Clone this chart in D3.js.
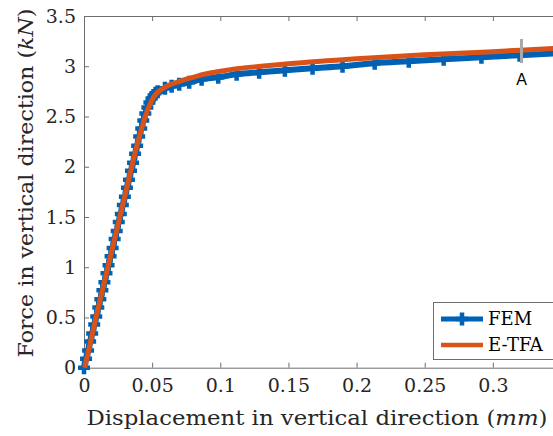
<!DOCTYPE html>
<html>
<head>
<meta charset="utf-8">
<script src="https://cdn.jsdelivr.net/npm/d3@7"></script>
<style>
body { margin: 0; background: #fff; }
svg { display: block; }
</style>
</head>
<body>
<svg id="graph"></svg>
<script>
// FEM (blue, + markers)
var femX = [0, 0.0015, 0.003, 0.0045, 0.006, 0.0075, 0.009, 0.0105, 0.012, 0.0135, 0.015, 0.0165, 0.018, 0.0195, 0.021, 0.0225,
    0.024, 0.0255, 0.027, 0.0285, 0.030, 0.0315, 0.033, 0.0345, 0.036, 0.0375, 0.039, 0.0405, 0.042, 0.0435, 0.045, 0.0465,
    0.048, 0.0495, 0.051, 0.0525, 0.054,
    0.0594, 0.0643, 0.0699, 0.0772, 0.0863, 0.0985, 0.112, 0.1285, 0.1474, 0.1677, 0.1897, 0.2133, 0.2383, 0.2639, 0.2916, 0.3196, 0.348]
var femY = [0, 0.09, 0.17, 0.26, 0.34, 0.43, 0.51, 0.60, 0.68, 0.77, 0.85, 0.94, 1.02, 1.11, 1.19, 1.28,
    1.36, 1.45, 1.53, 1.62, 1.70, 1.79, 1.87, 1.96, 2.04, 2.13, 2.21, 2.30, 2.38, 2.46, 2.53, 2.59,
    2.64, 2.68, 2.71, 2.73, 2.745,
    2.78, 2.80, 2.82, 2.84, 2.87, 2.89, 2.92, 2.94, 2.96, 2.98, 3.00, 3.03, 3.05, 3.07, 3.09, 3.11, 3.13]

// E-TFA (orange)
var tfaX = [0.0005, 0.01, 0.02, 0.03, 0.04, 0.045, 0.048, 0.051, 0.054, 0.058, 0.063, 0.07, 0.08, 0.09, 0.1, 0.112, 0.13, 0.15, 0.2, 0.25, 0.3, 0.32, 0.35]
var tfaY = [0, 0.57, 1.14, 1.71, 2.27, 2.50, 2.61, 2.69, 2.74, 2.78, 2.815, 2.85, 2.89, 2.925, 2.95, 2.975, 3.0, 3.025, 3.075, 3.115, 3.145, 3.16, 3.18]

var xTicks = [0, 0.05, 0.1, 0.15, 0.2, 0.25, 0.3]
var xTickLabels = ["0", "0.05", "0.1", "0.15", "0.2", "0.25", "0.3"]
var yTicks = [0, 0.5, 1, 1.5, 2, 2.5, 3, 3.5]
var yTickLabels = ["0", "0.5", "1", "1.5", "2", "2.5", "3", "3.5"]

var seriesNames = ["FEM", "E-TFA"]
var seriesColors = ["#0062b4", "#d95319"]

var markA = 0.321   // the grey "A" mark

var screen = {width: 553, height: 436}
var plot = {left: 84, top: 16, right: 561, bottom: 367.7}
var serif = "DejaVu Serif, Liberation Serif, serif"

var svg = d3.select("#graph")
    .attr("width", screen.width)
    .attr("height", screen.height)

var xScale = d3.scaleLinear()
    .domain([0, 0.35])
    .range([plot.left, plot.right])

var yScale = d3.scaleLinear()
    .domain([0, 3.5])
    .range([plot.bottom, plot.top])

// axes
svg.append("g")
    .attr("transform", "translate(0," + plot.bottom + ")")
    .call(d3.axisBottom(xScale).tickValues(xTicks)
        .tickFormat(function(d, i) { return xTickLabels[i] })
        .tickSizeInner(-5).tickSizeOuter(0).tickPadding(11))

svg.append("g")
    .attr("transform", "translate(0," + plot.top + ")")
    .call(d3.axisTop(xScale).tickValues(xTicks)
        .tickFormat("").tickSizeInner(-5).tickSizeOuter(0))

svg.append("g")
    .attr("transform", "translate(" + plot.left + ",0)")
    .call(d3.axisLeft(yScale).tickValues(yTicks)
        .tickFormat(function(d, i) { return yTickLabels[i] })
        .tickSizeInner(-5).tickSizeOuter(0).tickPadding(8))

svg.selectAll(".domain, .tick line").attr("stroke", "#6e6e6e").attr("stroke-width", 1)
svg.selectAll(".tick text")
    .style("font-family", serif)
    .style("font-size", "19px")
    .attr("fill", "#262626")

// curves
var femPts = femX.map(function(x, i) { return [x, femY[i]] })
var tfaPts = tfaX.map(function(x, i) { return [x, tfaY[i]] })

var line = d3.line()
    .curve(d3.curveMonotoneX)
    .x(function(d) { return xScale(d[0]) })
    .y(function(d) { return yScale(d[1]) })

svg.append("path")
    .datum(femPts)
    .attr("d", line)
    .attr("fill", "none")
    .attr("stroke", seriesColors[0])
    .attr("stroke-width", 6)
    .attr("stroke-linejoin", "round")

svg.selectAll(".fem-mark")
    .data(femPts)
    .enter()
    .append("path")
    .attr("class", "fem-mark")
    .attr("transform", function(d) { return "translate(" + xScale(d[0]) + "," + yScale(d[1]) + ")" })
    .attr("d", "M-6,0H6M0,-6.5V6.5")
    .attr("stroke", seriesColors[0])
    .attr("stroke-width", 4.5)

svg.append("path")
    .datum(tfaPts)
    .attr("d", line)
    .attr("fill", "none")
    .attr("stroke", seriesColors[1])
    .attr("stroke-width", 5)
    .attr("stroke-linejoin", "round")

// grey mark A
svg.append("line")
    .attr("x1", xScale(markA)).attr("x2", xScale(markA))
    .attr("y1", 39).attr("y2", 63)
    .attr("stroke", "#a9a9a9")
    .attr("stroke-width", 3)

svg.append("text")
    .attr("x", xScale(markA))
    .attr("y", 85)
    .attr("text-anchor", "middle")
    .style("font-family", "Liberation Sans, Arial, sans-serif")
    .style("font-size", "16px")
    .attr("fill", "#000")
    .text("A")

// axis labels
var xl = svg.append("text")
    .attr("x", 317)
    .attr("y", 425)
    .attr("text-anchor", "middle")
    .attr("textLength", 461)
    .attr("lengthAdjust", "spacingAndGlyphs")
    .style("font-family", serif)
    .style("font-size", "21px")
    .attr("fill", "#262626")
xl.append("tspan").text("Displacement in vertical direction (")
xl.append("tspan").style("font-style", "italic").text("mm")
xl.append("tspan").text(")")

var yl = svg.append("text")
    .attr("transform", "translate(33,183) rotate(-90)")
    .attr("text-anchor", "middle")
    .attr("textLength", 349)
    .attr("lengthAdjust", "spacingAndGlyphs")
    .style("font-family", serif)
    .style("font-size", "21px")
    .attr("fill", "#262626")
yl.append("tspan").text("Force in vertical direction (")
yl.append("tspan").style("font-style", "italic").text("kN")
yl.append("tspan").text(")")

// legend
var lg = svg.append("g")
lg.append("rect")
    .attr("x", 433.5).attr("y", 302.5)
    .attr("width", 140).attr("height", 57)
    .attr("fill", "#fff")
    .attr("stroke", "#6e6e6e")

var rows = [319, 345]
seriesNames.forEach(function(name, i) {
    lg.append("line")
        .attr("x1", 441).attr("x2", 483)
        .attr("y1", rows[i]).attr("y2", rows[i])
        .attr("stroke", seriesColors[i])
        .attr("stroke-width", i == 0 ? 5 : 4.5)
    if (i == 0) {
        lg.append("path")
            .attr("transform", "translate(462," + rows[i] + ")")
            .attr("d", "M-6,0H6M0,-6.5V6.5")
            .attr("stroke", seriesColors[0])
            .attr("stroke-width", 4.5)
    }
    lg.append("text")
        .attr("x", 488)
        .attr("y", rows[i] + 6)
        .style("font-family", serif)
        .style("font-size", "18px")
        .attr("fill", "#000")
        .text(name)
})
</script>
</body>
</html>
